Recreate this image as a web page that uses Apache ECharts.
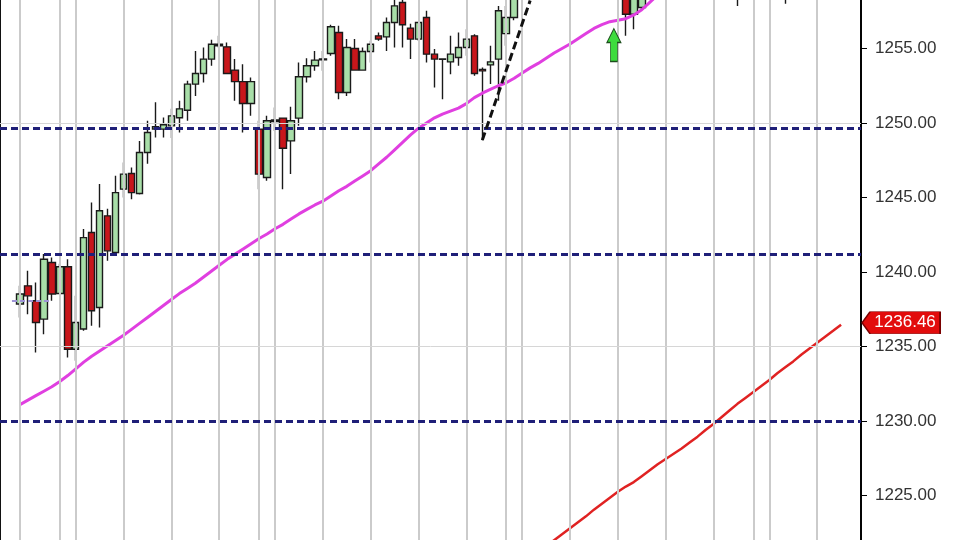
<!DOCTYPE html>
<html><head><meta charset="utf-8">
<script src="https://cdn.jsdelivr.net/npm/echarts@6/dist/echarts.min.js"></script>
<style>html,body{margin:0;padding:0;background:#fff;overflow:hidden;width:960px;height:540px}
#c{position:absolute;left:0;top:-26.5px;width:960px;height:596px}</style>
</head><body><div id="c"></div>
<script>
// ---- data ----
const lead = 2;            // empty slots before the first bar
const slotCount = 108;     // category slots across the plot
const categories = Array.from({length: slotCount}, (_, k) => String(k - lead));

const barIdx = [0,1,2,3,4,5,6,7,8,9,10,11,12,13,14,15,16,17,18,19,20,21,22,23,24,25,26,27,28,29,
  30,31,32,33,34,35,36,37,38,39,40,41,42,43,44,45,46,47,48,49,50,51,52,53,54,55,56,57,58,59,60,61,62,
  76,77,78,90,96];
const opens = [1237.85,1239.07,1238.07,1236.84,1240.64,1238.56,1240.35,1234.82,1236.17,1242.65,
  1237.62,1243.77,1241.31,1245.56,1246.61,1245.27,1248.02,1249.6,1249.59,1249.81,
  1250.35,1250.86,1252.61,1253.32,1254.29,1255.29,1255.11,1253.55,1252.78,1251.31,
  1249.59,1246.34,1250.1,1250.33,1248.8,1250.33,1253.1,1253.84,1254.3,1254.66,
  1256.07,1252.05,1255.0,1253.55,1254.8,1255.85,1255.78,1256.74,1258.09,1256.37,
  1255.63,1257.08,1254.62,1254.3,1254.1,1254.4,1255.07,1255.85,1253.6,1253.9,
  1254.29,1256.0,1257.08, 1259.2,1257.3,1257.75,1259.0,1260.8];
const closes = [1238.52,1238.4,1236.61,1240.86,1238.52,1240.35,1234.82,1236.61,1242.31,1237.4,
  1244.11,1241.42,1245.33,1246.57,1245.33,1248.02,1249.36,1249.75,1249.88,1250.48,
  1250.95,1252.61,1253.32,1254.29,1255.29,1255.18,1253.32,1252.78,1251.31,1252.78,
  1246.57,1250.15,1250.2,1248.31,1250.15,1253.1,1253.84,1254.22,1254.25,1256.46,
  1252.05,1255.07,1253.55,1254.8,1255.29,1255.63,1256.74,1257.86,1256.59,1255.63,
  1256.74,1254.62,1254.29,1254.27,1254.62,1255.07,1255.63,1253.32,1253.5,1254.1,
  1257.53,1257.08,1258.9, 1257.3,1258.7,1259.0,1260.5,1259.5];
const lows = [1236.95,1237.17,1234.6,1235.83,1238.07,1238.5,1234.26,1234.04,1236.05,1236.39,
  1236.27,1240.75,1241.09,1245.0,1244.89,1245.2,1247.26,1249.03,1249.03,1249.0,
  1249.36,1250.15,1251.82,1252.72,1253.84,1255.07,1253.3,1251.49,1249.36,1250.48,
  1245.56,1246.12,1249.47,1245.56,1246.57,1249.81,1252.72,1253.5,1253.5,1254.51,
  1251.6,1251.82,1253.5,1253.5,1254.06,1255.52,1254.84,1255.07,1255.07,1254.3,
  1255.5,1254.06,1252.38,1251.6,1253.28,1253.84,1254.51,1253.17,1248.85,1252.61,
  1251.49,1255.18,1256.9, 1255.85,1256.3,1257.6,1257.85,1258.0];
const highs = [1239.07,1240.08,1239.3,1241.2,1240.97,1240.55,1240.86,1238.4,1242.88,1244.66,
  1245.9,1244.24,1246.46,1247.35,1247.01,1248.8,1250.15,1251.4,1250.37,1250.95,
  1251.49,1252.83,1254.84,1255.07,1255.58,1255.85,1255.4,1254.29,1253.95,1253.05,
  1250.15,1250.48,1251.04,1250.37,1251.09,1254.06,1254.35,1254.84,1254.84,1256.59,
  1256.52,1255.63,1255.63,1255.07,1255.52,1256.07,1257.08,1258.3,1258.4,1256.66,
  1256.8,1257.53,1254.96,1254.32,1255.85,1256.07,1256.3,1255.96,1253.72,1255.18,
  1257.86,1257.86,1259.3, 1259.6,1259.1,1259.4,1261.0,1261.2];

const maStart = 0;
const maValues = [1231.1,1231.4,1231.7,1232.0,1232.3,1232.65,1233.05,1233.5,1233.95,1234.35,
  1234.7,1235.05,1235.4,1235.75,1236.15,1236.55,1236.95,1237.35,1237.75,1238.15,
  1238.55,1238.9,1239.25,1239.65,1240.05,1240.45,1240.85,1241.2,1241.55,1241.9,
  1242.25,1242.55,1242.9,1243.2,1243.55,1243.9,1244.2,1244.5,1244.75,1245.1,
  1245.45,1245.75,1246.1,1246.45,1246.8,1247.25,1247.7,1248.2,1248.7,1249.2,
  1249.65,1250.0,1250.35,1250.6,1250.8,1251.0,1251.3,1251.7,1252.0,1252.25,
  1252.5,1252.7,1253.0,1253.35,1253.7,1254.0,1254.35,1254.7,1255.0,1255.3,
  1255.65,1256.0,1256.35,1256.6,1256.8,1256.9,1257.0,1257.25,1257.6,1258.1,1258.6];

const redStart = 66;
const redValues = [1221.6,1222.0,1222.4,1222.8,1223.2,1223.6,1224.05,1224.45,1224.85,1225.25,
  1225.6,1225.9,1226.3,1226.7,1227.1,1227.45,1227.8,1228.15,1228.55,1228.95,
  1229.4,1229.8,1230.25,1230.7,1231.15,1231.55,1231.95,1232.35,1232.75,1233.2,
  1233.6,1234.0,1234.45,1234.85,1235.25,1235.65,1236.05,1236.46];
const lastPrice = 1236.46;

const levels = [1249.65, 1241.2, 1229.95];
const hGrid = [1235, 1250];
const vGrid = [0,5,7,13,19,25,30,32,38,44,50,56,61,63,69,75,81,87,92,94,100];
const shortLevel = {from: -1, to: 4, value: 1238.1};
const trend = {from: [58, 1248.85], to: [64, 1258.22]};
const arrowAt = [74, 1255.23];
const yTicks = {min: 1220, max: 1260, step: 5};

// ---- build series data aligned to category slots ----
function slotArray(start, values) {
  const out = new Array(slotCount).fill('-');
  values.forEach((v, j) => { const k = start + j + lead; if (k < slotCount) out[k] = v; });
  return out;
}
const candleData = new Array(slotCount).fill('-');
barIdx.forEach((i, j) => { candleData[i + lead] = [opens[j], closes[j], lows[j], highs[j]]; });

const font = 'Liberation Sans, Arial, sans-serif';
const chart = echarts.init(document.getElementById('c'), null, {renderer: 'canvas'});
chart.setOption({
  animation: false,
  backgroundColor: '#fff',
  grid: {left: 0, right: 99, top: 0, bottom: 0, outerBoundsMode: 'none', containLabel: false,
    show: true, borderColor: '#111', borderWidth: 2, backgroundColor: '#fff'},
  xAxis: {type: 'category', data: categories, boundaryGap: true, show: false},
  yAxis: {
    type: 'value', position: 'right', min: yTicks.min, max: yTicks.max, interval: yTicks.step,
    axisLine: {show: true, lineStyle: {color: '#000', width: 1.5}},
    axisTick: {show: true, length: 6, lineStyle: {color: '#000', width: 1}},
    axisLabel: {margin: 14, color: '#333', fontSize: 17, fontFamily: font, formatter: v => v.toFixed(2)},
    splitLine: {show: false}
  },
  series: [
    {
      type: 'line', data: [], z: 1, silent: true,
      markLine: {
        silent: true, symbol: ['none', 'none'], label: {show: false}, animation: false,
        lineStyle: {color: '#cbcbcb', width: 2, type: 'solid'},
        data: vGrid.map(i => ({xAxis: String(i)}))
          .concat(hGrid.map(v => ({yAxis: v, lineStyle: {color: '#d6d6d6', width: 1, type: 'solid'}})))
      }
    },
    {
      type: 'candlestick', data: candleData, z: 2, barWidth: 7, clip: true,
      itemStyle: {color: '#a8dea8', color0: '#c8161b', borderColor: '#1a1a1a', borderColor0: '#1a1a1a', borderWidth: 1.4}
    },
    {
      type: 'line', data: slotArray(maStart, maValues), z: 3, symbol: 'none', clip: true,
      lineStyle: {color: '#e03fe0', width: 3}
    },
    {
      type: 'line', data: slotArray(redStart, redValues), z: 3, symbol: 'none', clip: true,
      lineStyle: {color: '#e02222', width: 2.5},
      markPoint: {
        silent: true, animation: false,
        data: [{
          coord: [String(redStart + redValues.length - 1), lastPrice],
          symbol: 'path://M0,11 L8,0 L78,0 L78,22 L8,22 Z', symbolSize: [78, 22], symbolKeepAspect: false,
          symbolOffset: [60, -2],
          itemStyle: {color: '#e20c0c', borderColor: '#7a0000', borderWidth: 1},
          label: {show: true, position: 'inside', formatter: lastPrice.toFixed(2), color: '#fff', fontSize: 17, fontFamily: font, offset: [4, 0]}
        }]
      }
    },
    {
      type: 'line', data: [], z: 4, silent: true,
      markLine: {
        silent: true, symbol: ['none', 'none'], label: {show: false}, animation: false,
        data: levels.map(v => ({yAxis: v, lineStyle: {color: '#1f1f78', width: 3, type: [7, 4]}}))
          .concat([[
            {coord: [String(shortLevel.from), shortLevel.value], lineStyle: {color: '#9d93d6', width: 2, type: [5, 3]}},
            {coord: [String(shortLevel.to), shortLevel.value]}
          ], [
            {coord: [String(trend.from[0]), trend.from[1]], lineStyle: {color: '#111', width: 3, type: [8, 4]}},
            {coord: [String(trend.to[0]), trend.to[1]]}
          ]])
      },
      markPoint: {
        silent: true, animation: false,
        data: [{
          coord: [String(arrowAt[0]), arrowAt[1]],
          symbol: 'path://M7,0 L14,14 L10.5,14 L10.5,33 L3.5,33 L3.5,14 L0,14 Z', symbolSize: [14, 33], symbolKeepAspect: false,
          symbolOffset: [4, 0],
          itemStyle: {color: '#3ddc3d', borderColor: '#1d4d1d', borderWidth: 1},
          label: {show: false}
        }]
      }
    }
  ]
});
</script>
</body></html>
